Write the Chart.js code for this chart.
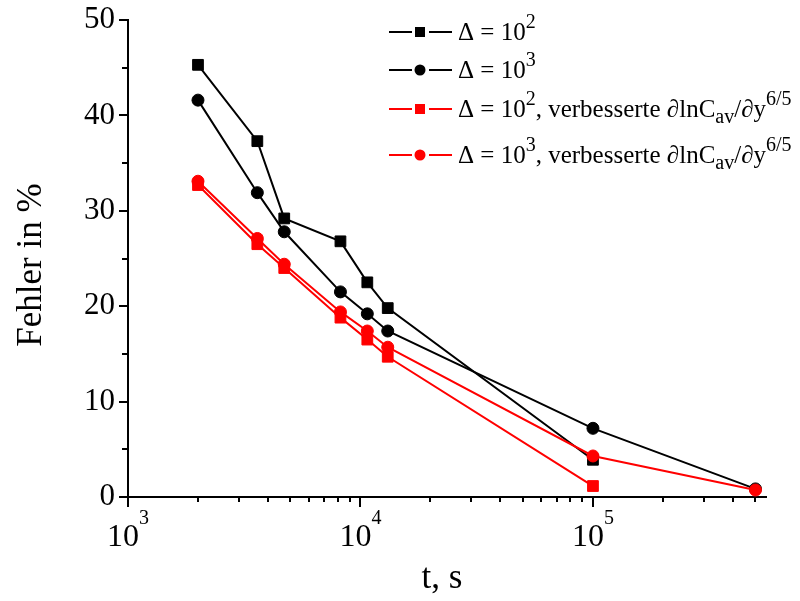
<!DOCTYPE html>
<html lang="de">
<head>
<meta charset="UTF-8">
<title>Fehler in %</title>
<script src="https://cdn.jsdelivr.net/npm/chart.js"></script>
<style>
  html, body { margin: 0; padding: 0; background: #fff; }
</style>
</head>
<body>
<canvas id="grafico" width="800" height="601"></canvas>
<script>
    // Daten
    const zeiten = [2000, 3600, 4700, 8200, 10700, 13100, 100000, 500000];
    const fehlerD2 = [45.3, 37.3, 29.2, 26.8, 22.5, 19.8, 3.9];
    const fehlerD3 = [41.6, 31.9, 27.8, 21.5, 19.2, 17.4, 7.2, 0.85];
    const fehlerD2neu = [32.7, 26.5, 24.0, 18.8, 16.5, 14.7, 1.15];
    const fehlerD3neu = [33.1, 27.1, 24.4, 19.4, 17.4, 15.7, 4.3, 0.73];
    const xDekaden = [1e3, 1e4, 1e5];
    const xExponenten = ['3', '4', '5'];
    const yTicks = [0, 10, 20, 30, 40, 50];

    const SCHRIFT = 'Liberation Serif, Times New Roman, serif';

    function punkte(werte) {
        return werte.map(function (w, i) { return { x: zeiten[i], y: w }; });
    }

    // Legende mit Hoch-/Tiefstellung
    const legende = [
        { farbe: '#000', form: 'rect', y: 32, text: [['Δ = 10'], ['2', 'sup']] },
        { farbe: '#000', form: 'circle', y: 70, text: [['Δ = 10'], ['3', 'sup']] },
        { farbe: '#ff0000', form: 'rect', y: 109, text: [['Δ = 10'], ['2', 'sup'], [', verbesserte ∂lnC'], ['av', 'sub'], ['/∂y'], ['6/5', 'sup']] },
        { farbe: '#ff0000', form: 'circle', y: 155, text: [['Δ = 10'], ['3', 'sup'], [', verbesserte ∂lnC'], ['av', 'sub'], ['/∂y'], ['6/5', 'sup']] }
    ];

    function zeichneText(ctx, teile, x, y, gross, klein, hoch) {
        teile.forEach(function (t) {
            let dy = 0;
            if (t[1] === 'sup') { ctx.font = klein + 'px ' + SCHRIFT; dy = -hoch; }
            else if (t[1] === 'sub') { ctx.font = klein + 'px ' + SCHRIFT; dy = 6; }
            else { ctx.font = gross + 'px ' + SCHRIFT; }
            ctx.fillText(t[0], x, y + dy);
            x += ctx.measureText(t[0]).width;
        });
        return x;
    }

    function marker(ctx, form, x, y, farbe) {
        ctx.fillStyle = farbe;
        ctx.beginPath();
        if (form === 'rect') ctx.rect(x - 5, y - 5, 10, 10);
        else ctx.arc(x, y, 5.5, 0, Math.PI * 2);
        ctx.fill();
    }

    const achsenPlugin = {
        id: 'achsen',
        afterDraw(chart) {
            const ctx = chart.ctx;
            const xs = chart.scales.x, ys = chart.scales.y;
            const a = chart.chartArea;
            ctx.save();
            ctx.strokeStyle = '#000';
            ctx.fillStyle = '#000';
            ctx.lineWidth = 2;

            // x-Striche (log)
            for (let e = 3; e <= 5; e++) {
                for (let m = 1; m <= 9; m++) {
                    const v = m * Math.pow(10, e);
                    if (v > xs.max) break;
                    const px = Math.round(xs.getPixelForValue(v));
                    ctx.beginPath();
                    ctx.moveTo(px, a.bottom);
                    ctx.lineTo(px, a.bottom + (m === 1 ? 10 : 5));
                    ctx.stroke();
                }
            }
            // y-Striche
            for (let v = 0; v <= 50; v += 5) {
                const py = Math.round(ys.getPixelForValue(v));
                ctx.beginPath();
                ctx.moveTo(a.left, py);
                ctx.lineTo(a.left - (v % 10 === 0 ? 9 : 6), py);
                ctx.stroke();
            }

            // x-Beschriftung 10^n
            ctx.textBaseline = 'alphabetic';
            ctx.textAlign = 'left';
            xDekaden.forEach(function (d, i) {
                const px = xs.getPixelForValue(d);
                ctx.font = '32px ' + SCHRIFT;
                const w1 = ctx.measureText('10').width;
                ctx.font = '20px ' + SCHRIFT;
                const w2 = ctx.measureText(xExponenten[i]).width;
                zeichneText(ctx, [['10'], [xExponenten[i], 'sup']], px - (w1 + w2) / 2, 546, 32, 20, 22);
            });

            // Achsentitel
            ctx.font = '35px ' + SCHRIFT;
            ctx.textAlign = 'center';
            ctx.fillText('t, s', 442, 588);
            ctx.save();
            ctx.translate(41, 265);
            ctx.rotate(-Math.PI / 2);
            ctx.fillText('Fehler in %', 0, 0);
            ctx.restore();

            // Legende
            ctx.textAlign = 'left';
            legende.forEach(function (l) {
                ctx.strokeStyle = l.farbe;
                ctx.lineWidth = 2;
                ctx.beginPath();
                ctx.moveTo(389, l.y); ctx.lineTo(412, l.y);
                ctx.moveTo(429, l.y); ctx.lineTo(452, l.y);
                ctx.stroke();
                marker(ctx, l.form, 420, l.y, l.farbe);
                ctx.fillStyle = '#000';
                zeichneText(ctx, l.text, 458, l.y + 8, 25, 20, 12);
            });
            ctx.restore();
        }
    };

    function serie(label, werte, farbe, form, reihenfolge) {
        return {
            label: label,
            data: punkte(werte),
            showLine: true,
            borderColor: farbe,
            backgroundColor: farbe,
            borderWidth: 2,
            pointStyle: form,
            pointRadius: form === 'rect' ? 7.6 : 6,
            pointBorderWidth: 1,
            order: reihenfolge
        };
    }

    new Chart(document.getElementById('grafico').getContext('2d'), {
        type: 'scatter',
        data: {
            datasets: [
                serie('Δ = 10²', fehlerD2, '#000', 'rect', 3),
                serie('Δ = 10³', fehlerD3, '#000', 'circle', 2),
                serie('Δ = 10², verbesserte', fehlerD2neu, '#ff0000', 'rect', 1),
                serie('Δ = 10³, verbesserte', fehlerD3neu, '#ff0000', 'circle', 0)
            ]
        },
        options: {
            responsive: false,
            animation: false,
            layout: { padding: { top: 20, right: 34, left: 0, bottom: 0 } },
            plugins: { legend: { display: false }, tooltip: { enabled: false } },
            scales: {
                x: {
                    type: 'logarithmic',
                    min: 1000,
                    max: 555000,
                    grid: { display: false, drawTicks: false },
                    border: { display: true, color: '#000', width: 2 },
                    ticks: { display: false },
                    afterFit(s) { s.height = 104; s.paddingLeft = 0; s.paddingRight = 0; }
                },
                y: {
                    min: 0,
                    max: 50,
                    grid: { display: false, drawTicks: false },
                    border: { display: true, color: '#000', width: 2 },
                    afterBuildTicks(s) { s.ticks = yTicks.map(function (v) { return { value: v }; }); },
                    ticks: {
                        color: '#000',
                        padding: 13,
                        font: { family: SCHRIFT, size: 31 }
                    },
                    afterFit(s) { s.width = 128; s.paddingTop = 0; s.paddingBottom = 0; }
                }
            }
        },
        plugins: [achsenPlugin]
    });
</script>
</body>
</html>
